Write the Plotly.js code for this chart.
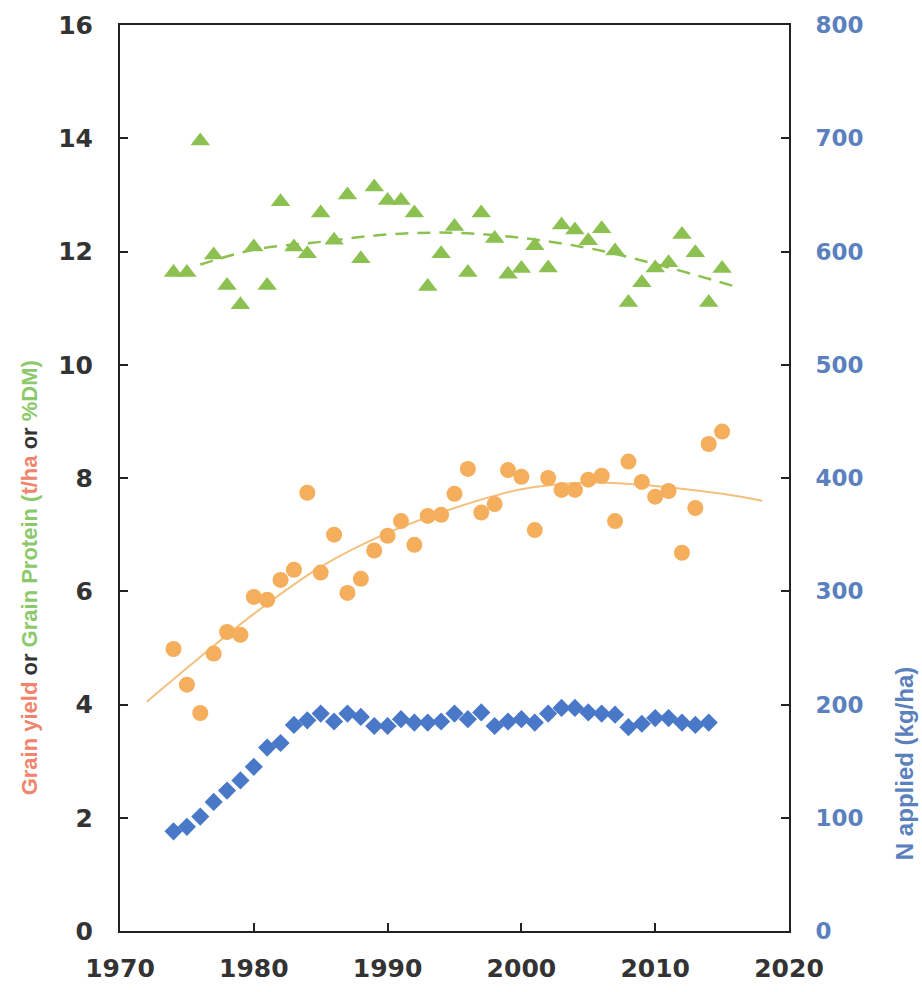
<!DOCTYPE html>
<html>
<head>
<meta charset="utf-8">
<script src="https://cdn.plot.ly/plotly-3.0.1.min.js"></script>
<style>
html,body{margin:0;padding:0;background:#fff;}
#chart{width:922px;height:992px;}
</style>
</head>
<body>
<div id="chart"></div>
<script>
// ---- data ----
const yieldYears = [1974,1975,1976,1977,1978,1979,1980,1981,1982,1983,1984,1985,1986,1987,1988,1989,1990,1991,1992,1993,1994,1995,1996,1997,1998,1999,2000,2001,2002,2003,2004,2005,2006,2007,2008,2009,2010,2011,2012,2013,2014,2015];
const grainYield = [4.98,4.35,3.85,4.9,5.28,5.23,5.9,5.85,6.2,6.38,7.74,6.33,7.0,5.97,6.22,6.72,6.98,7.24,6.82,7.33,7.35,7.72,8.16,7.39,7.54,8.14,8.02,7.08,8.0,7.79,7.79,7.97,8.04,7.24,8.29,7.93,7.67,7.77,6.68,7.47,8.6,8.82];

const proteinYears = [1974,1975,1976,1977,1978,1979,1980,1981,1982,1983,1984,1985,1986,1987,1988,1989,1990,1991,1992,1993,1994,1995,1996,1997,1998,1999,2000,2001,2002,2003,2004,2005,2006,2007,2008,2009,2010,2011,2012,2013,2014,2015];
const grainProtein = [11.63,11.63,13.95,11.94,11.4,11.06,12.08,11.4,12.88,12.08,11.96,12.68,12.2,13.0,11.87,13.14,12.9,12.9,12.68,11.38,11.96,12.44,11.63,12.68,12.23,11.6,11.7,12.1,11.71,12.47,12.38,12.19,12.4,12.01,11.1,11.45,11.71,11.8,12.3,11.98,11.1,11.7];

const nYears = [1974,1975,1976,1977,1978,1979,1980,1981,1982,1983,1984,1985,1986,1987,1988,1989,1990,1991,1992,1993,1994,1995,1996,1997,1998,1999,2000,2001,2002,2003,2004,2005,2006,2007,2008,2009,2010,2011,2012,2013,2014];
const nApplied = [88,92,101,114,124,133,145,162,166,182,186,192,185,192,189,181,181,187,184,184,185,192,187,193,181,185,187,184,192,197,197,193,192,191,180,183,188,188,184,182,184];

// trend lines
const yieldTrendYears = [1972,1976,1980,1985,1990,1995,2000,2005,2010,2015,2018];
const yieldTrend = [4.05,4.84,5.6,6.43,7.03,7.47,7.8,7.92,7.86,7.72,7.6];
const proteinTrendYears = [1976,1980,1985,1990,1995,2000,2005,2010,2016];
const proteinTrend = [11.77,12.03,12.17,12.3,12.33,12.24,12.06,11.78,11.38];

const xTicks = [1970,1980,1990,2000,2010,2020];
const yTicks = [0,2,4,6,8,10,12,14,16];
const y2Ticks = [0,100,200,300,400,500,600,700,800];

// ---- styling ----
const ORANGE = '#f4ae5c';
const ORANGE_LINE = '#f3c07f';
const GREEN = '#8cc152';
const BLUE = '#4a78c8';
const DARK = '#333333';
const TICKFONT = 'DejaVu Sans, Liberation Sans, Arial, sans-serif';
const FONT = 'Liberation Sans, Arial, sans-serif';

const traces = [
  {x: proteinTrendYears, y: proteinTrend, type:'scatter', mode:'lines', line:{color:GREEN, width:2.5, dash:'13px,9px', shape:'spline'}, hoverinfo:'skip'},
  {x: yieldTrendYears, y: yieldTrend, type:'scatter', mode:'lines', line:{color:ORANGE_LINE, width:2, shape:'spline'}, hoverinfo:'skip'},
  {x: proteinYears, y: grainProtein, type:'scatter', mode:'markers', marker:{symbol:'triangle-up', size:17, color:GREEN}},
  {x: yieldYears, y: grainYield, type:'scatter', mode:'markers', marker:{symbol:'circle', size:16, color:ORANGE}},
  {x: nYears, y: nApplied, type:'scatter', mode:'markers', yaxis:'y2', marker:{symbol:'diamond', size:14, color:BLUE}}
];

const layout = {
  width: 922, height: 992,
  margin: {l:120, r:133, t:25, b:61},
  paper_bgcolor:'#fff', plot_bgcolor:'#fff',
  showlegend:false,
  xaxis: {
    range:[1970,2020], tickvals:xTicks, ticktext:xTicks.map(String),
    showgrid:false, zeroline:false,
    showline:true, linecolor:'#222', linewidth:2, mirror:true,
    ticks:'inside', ticklen:8, tickwidth:2, tickcolor:'#222',
    tickfont:{family:TICKFONT, size:25, color:DARK, weight:'bold'},
    ticklabelstandoff:14
  },
  yaxis: {
    range:[0,16], tickvals:yTicks, ticktext:yTicks.map(String),
    showgrid:false, zeroline:false,
    showline:true, linecolor:'#222', linewidth:2,
    ticks:'inside', ticklen:8, tickwidth:2, tickcolor:'#222',
    tickfont:{family:TICKFONT, size:25, color:DARK, weight:'bold'},
    ticklabelstandoff:20
  },
  yaxis2: {
    range:[0,800], tickvals:y2Ticks, ticktext:y2Ticks.map(String),
    overlaying:'y', side:'right',
    showgrid:false, zeroline:false,
    showline:true, linecolor:'#222', linewidth:2,
    ticks:'inside', ticklen:8, tickwidth:2, tickcolor:'#222',
    tickfont:{family:TICKFONT, size:23, color:'#5b80be', weight:'bold'},
    ticklabelstandoff:20
  },
  annotations: [
    {
      xref:'paper', yref:'paper', x:-0.135, y:0.39, xanchor:'center', yanchor:'middle',
      textangle:-90, showarrow:false,
      font:{family:FONT, size:22, color:DARK, weight:'bold'},
      text:'<span style="color:#f0846c">Grain yield</span> or <span style="color:#8cc96a">Grain Protein (</span><span style="color:#f0846c">t/ha</span> or <span style="color:#8cc96a">%DM)</span>'
    },
    {
      xref:'paper', yref:'paper', x:1.173, y:0.185, xanchor:'center', yanchor:'middle',
      textangle:-90, showarrow:false,
      font:{family:FONT, size:24, color:'#5b80be', weight:'bold'},
      text:'N applied (kg/ha)'
    }
  ]
};

Plotly.newPlot('chart', traces, layout, {displayModeBar:false, staticPlot:true});
</script>
</body>
</html>
